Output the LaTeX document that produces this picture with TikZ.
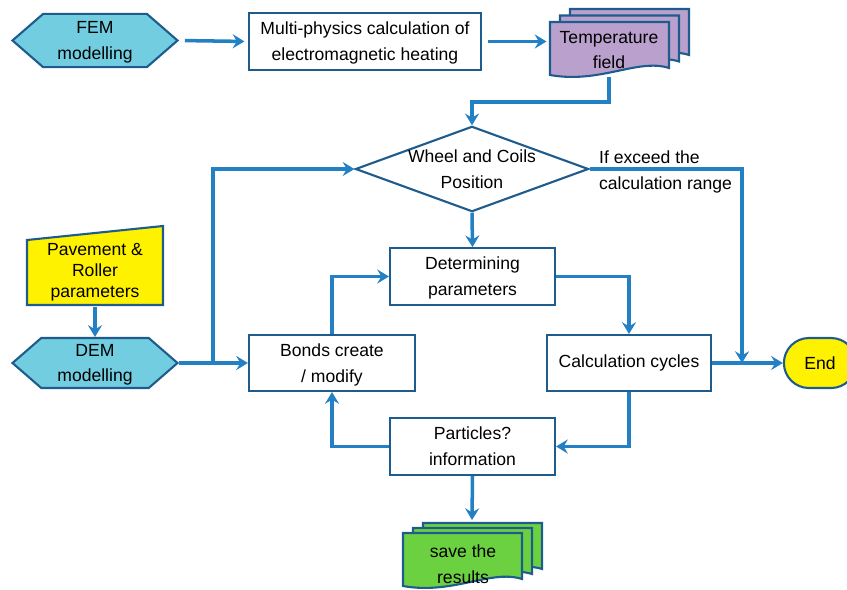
\documentclass[tikz,border=0pt]{standalone}
\usepackage{fontspec}
\setmainfont{Liberation Sans}
\usetikzlibrary{shapes.geometric, shapes.symbols, shapes.misc, positioning, arrows.meta, calc}

\definecolor{flowblue}{RGB}{36,128,196}
\definecolor{edgeblue}{RGB}{31,92,142}
\definecolor{femcyan}{RGB}{114,205,224}
\definecolor{tempviolet}{RGB}{186,160,204}
\definecolor{saveleaf}{RGB}{108,209,64}

\begin{document}
\begin{tikzpicture}[
    x=0.03cm, y=-0.03cm,
    every node/.style={font=\fontsize{15}{22}\selectfont},
    lowered/.style={text depth=-6.5pt},
    process/.style={draw=edgeblue, line width=1.8pt, rectangle, minimum height=1.7cm, align=center, fill=white},
    decision/.style={draw=edgeblue, line width=1.8pt, diamond, aspect=2.73, minimum width=6.72cm, minimum height=2.46cm, inner sep=0pt, align=center, fill=white, text depth=-4.5pt},
    prep/.style={draw=edgeblue, line width=1.8pt, signal, signal to=west and east, signal pointer angle=82, minimum width=4.95cm, minimum height=1.6cm, inner sep=1pt, align=center, fill=femcyan, lowered},
    terminal/.style={draw=edgeblue, line width=1.8pt, rounded rectangle, minimum width=2.4cm, minimum height=1.5cm, align=center, fill=yellow},
    sheet/.pic={\path[pic actions] (0,0) -- (119,0) -- (119,46) .. controls (88,36) and (50,62) .. (0,53) -- cycle;},
    flow/.style={draw=flowblue, line width=3pt, -{Stealth[length=10pt, width=12pt, inset=3.5pt]}},
    link/.style={draw=flowblue, line width=3pt}
]
    \useasboundingbox (0,0) rectangle (847,589);

    % ================= TOP ROW =================
    \node[prep] (fem) at (95,40.5) {FEM\\modelling};
    \node[process, lowered, minimum width=6.96cm] (multi) at (365,41.5) {Multi-physics calculation of\\electromagnetic heating};

    \pic[draw=edgeblue, line width=1.8pt, fill=tempviolet] at (570,9) {sheet};
    \pic[draw=edgeblue, line width=1.8pt, fill=tempviolet] at (560,15.5) {sheet};
    \pic[draw=edgeblue, line width=1.8pt, fill=tempviolet] at (550,22) {sheet};
    \node[minimum width=3.5cm, minimum height=1.6cm, align=center] (temp) at (609,50) {Temperature\\field};

    % ================= INPUTS =================
    \draw[draw=edgeblue, line width=1.8pt, fill=yellow] (27,240) -- (163,226) -- (163,305) -- (27,305) -- cycle;
    \node[minimum height=1.95cm, align=center, font=\fontsize{15}{18}\selectfont] (pav) at (95,272.5) {Pavement \&\\Roller\\parameters};
    \node[prep, minimum height=1.5cm] (dem) at (95,363) {DEM\\modelling};

    % ================= MAIN LOOP =================
    \node[decision] (wheel) at (472,169) {Wheel and Coils\\Position};
    \node[process, lowered, minimum width=4.95cm] (det) at (472.5,276.5) {Determining\\parameters};
    \node[process, lowered, minimum width=4.98cm, minimum height=1.68cm] (bonds) at (332,363) {Bonds create\\/ modify};
    \node[process, minimum width=4.92cm, minimum height=1.68cm] (calc) at (629,363) {Calculation cycles};
    \node[process, lowered, minimum width=4.95cm] (part) at (472.5,446.5) {Particles?\\information};
    \node[terminal] (end) at (820,363) {End};
    \node[anchor=west, align=left] (exceed) at (595,172) {If exceed the\\calculation range};

    \pic[draw=edgeblue, line width=1.8pt, fill=saveleaf] at (423,523) {sheet};
    \pic[draw=edgeblue, line width=1.8pt, fill=saveleaf] at (413,528) {sheet};
    \pic[draw=edgeblue, line width=1.8pt, fill=saveleaf] at (403,533) {sheet};
    \node[align=center] (save) at (463,564) {save the\\results};

    \coordinate (split) at (213,363);
    \coordinate (exceed end) at (742,363);
    \coordinate (save top) at (472,520);

    % ================= CONNECTIONS =================
    \draw[flow, shorten <=5pt, shorten >=3pt] (fem.east) -- (multi.west);
    \draw[flow, shorten <=5pt, shorten >=3pt] (multi.east) -- (550,41.5);
    \draw[flow] (temp.south) -- ++(0,25) -| (wheel.north);

    \draw[flow, shorten <=1pt] (pav.south) -- (dem.north);
    \draw[link] (dem.east) -- (split);
    \draw[flow] (split) |- (wheel.west);
    \draw[flow] (split) -- (bonds.west);

    \draw[flow] (wheel.south) -- (det.north);
    \draw[flow] (wheel.east) -| (exceed end);
    \draw[flow] (det.east) -| (calc.north);
    \draw[flow] (calc.east) -- (end.west);
    \draw[flow] (calc.south) |- (part.east);
    \draw[flow] (part.west) -| (bonds.south);
    \draw[flow] (bonds.north) |- (det.west);
    \draw[flow] (part.south) -- (save top);

\end{tikzpicture}
\end{document}
